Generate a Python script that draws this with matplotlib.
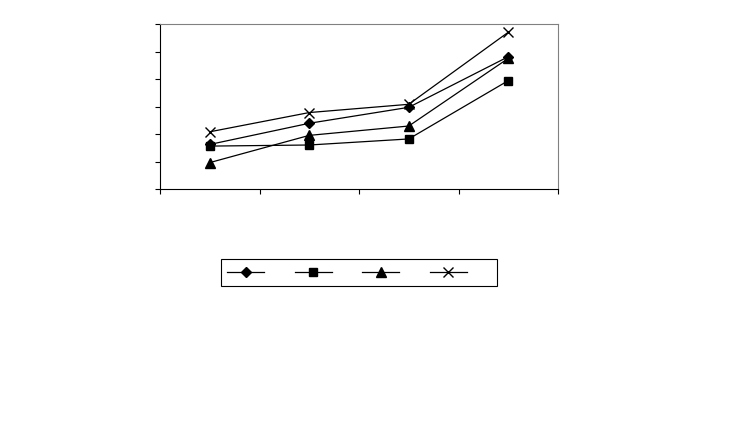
import matplotlib
matplotlib.use('Agg')
import matplotlib.pyplot as plt

# category positions (centred between x ticks)
x_pos = [0.5, 1.5, 2.5, 3.5]
series_diamond = [1.62, 2.39, 2.97, 4.81]
series_square = [1.56, 1.60, 1.82, 3.94]
series_triangle = [0.96, 1.95, 2.29, 4.75]
series_cross = [2.08, 2.78, 3.08, 5.70]

fig = plt.figure(figsize=(7.44, 4.32), dpi=100)
ax = fig.add_axes([160/744, 1-189/432, 398/744, 165/432])

lines = []
lines += ax.plot(x_pos, series_diamond, color='black', lw=0.9, marker='D', ms=5)
lines += ax.plot(x_pos, series_square, color='black', lw=0.9, marker='s', ms=6)
lines += ax.plot(x_pos, series_triangle, color='black', lw=0.9, marker='^', ms=7)
lines += ax.plot(x_pos, series_cross, color='black', lw=0.9, marker='x', ms=7, mew=1)

ax.set_xlim(0, 4)
ax.set_ylim(0, 6)
ax.set_xticks([0, 1, 2, 3, 4])
ax.set_yticks([0, 1, 2, 3, 4, 5, 6])
ax.set_xticklabels([])
ax.set_yticklabels([])
ax.tick_params(direction='out', length=3.6, width=0.8, color='black')
for side in ['top', 'right']:
    ax.spines[side].set_color('#808080')
    ax.spines[side].set_linewidth(0.8)
for side in ['left', 'bottom']:
    ax.spines[side].set_color('black')
    ax.spines[side].set_linewidth(0.8)

leg = fig.legend(lines, ['   '] * 4, loc='center', bbox_to_anchor=(359/744, 1-272.5/432),
                 ncol=4, handlelength=2.66, handletextpad=0.8, columnspacing=0.45,
                 fancybox=False, framealpha=1, edgecolor='black', fontsize=10,
                 borderpad=0.45)
leg.get_frame().set_linewidth(0.8)

fig.savefig('out.png', dpi=100)
